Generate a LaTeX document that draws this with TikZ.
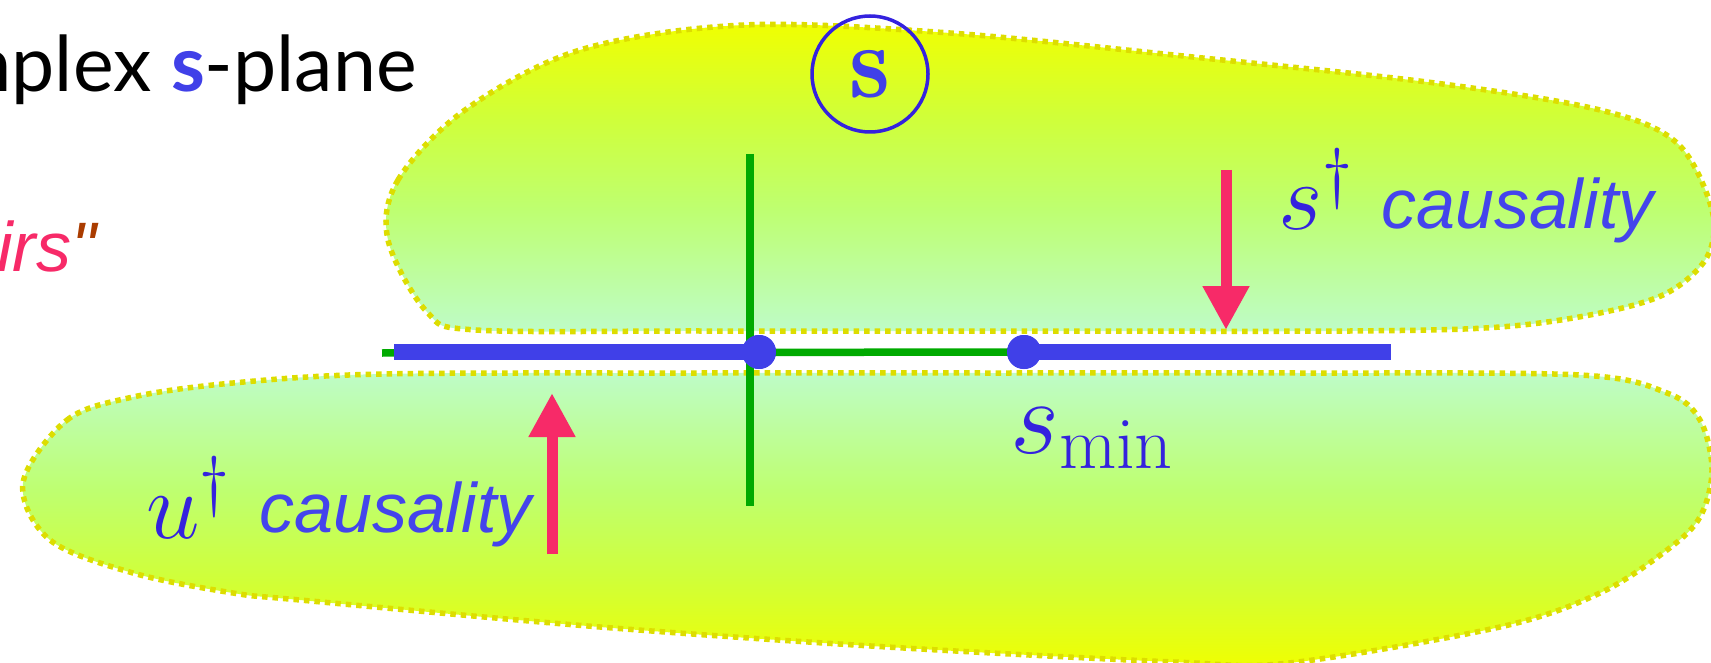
\RequirePackage{fix-cm}
\documentclass[tikz,border=0pt]{standalone}
\usepackage{fontspec}
\usetikzlibrary{arrows.meta}
\newfontfamily\arialfont{Liberation Sans}
\newfontfamily\titlefont{Lato}
\definecolor{sblue}{RGB}{64,64,232}
\definecolor{mblue}{RGB}{52,34,222}
\definecolor{tblue}{RGB}{68,68,236}
\definecolor{redc}{RGB}{247,42,104}
\definecolor{greenc}{RGB}{0,170,0}
\definecolor{dotyel}{RGB}{221,221,0}
\definecolor{topyel}{RGB}{240,255,0}
\definecolor{yelgreen}{RGB}{208,255,56}
\definecolor{midgreen}{RGB}{190,255,112}
\definecolor{mint}{RGB}{190,252,200}
\definecolor{quotebrown}{RGB}{170,60,0}
\pgfdeclareverticalshading{uppershade}{100bp}{color(0bp)=(mint); color(25bp)=(mint); color(45bp)=(midgreen); color(60bp)=(yelgreen); color(75bp)=(topyel); color(100bp)=(topyel)}
\pgfdeclareverticalshading{lowershade}{100bp}{color(0bp)=(topyel); color(25bp)=(topyel); color(40bp)=(yelgreen); color(55bp)=(midgreen); color(75bp)=(mint); color(100bp)=(mint)}
\tikzset{
  blob/.style={draw=dotyel, line width=5.5pt, dash pattern=on 5.5pt off 5pt},
  bluel/.style={draw=sblue, line width=16pt},
  greenl/.style={draw=greenc, line width=7.5pt},
  bdot/.style={circle, fill=sblue, minimum size=34pt, inner sep=0pt},
  redarrow/.style={draw=redc, line width=11pt, -{Triangle[width=44pt,length=44pt]}},
  lbl/.style={inner sep=0pt, anchor=base west},
  caus/.style={lbl, text=tblue, font=\arialfont\itshape\fontsize{70}{70}\selectfont},
  mth/.style={lbl, text=mblue, font=\fontsize{96}{96}\selectfont},
}
\begin{document}
\begin{tikzpicture}[x=1pt,y=-1pt]
\useasboundingbox (0,0) rectangle (1711,663);
\clip (0,0) rectangle (1711,663);
% upper half-plane region
\path[blob, shading=uppershade]
  plot[smooth cycle, tension=0.55] coordinates {
  (388,240) (398,180) (465,110) (580,50) (744,25) (950,33) (1193,57)
  (1435,83) (1600,110) (1677,143) (1712,210) (1707,257) (1667,293)
  (1600,313) (1500,327) (1350,331) (1000,331) (700,331) (476,330) (427,312)};
% lower half-plane region
\path[blob, shading=lowershade]
  plot[smooth cycle, tension=0.55] coordinates {
  (23,483) (67,420) (133,397) (233,383) (383,374) (700,373) (1000,373)
  (1300,373) (1580,375) (1667,393) (1700,420) (1712,470) (1700,517)
  (1667,550) (1600,593) (1500,627) (1289,663) (1174,662) (887,647)
  (600,627) (300,600) (233,593) (133,573) (50,540)};
% texts
\node[inner sep=0pt, anchor=base east] (title) at (417,92)
  {\titlefont\fontsize{77}{77}\selectfont Complex {\bfseries\color{sblue}s}-plane};
\node[lbl] (pairs) at (-3,272)
  {\arialfont\itshape\fontsize{70}{70}\selectfont\color{redc}irs\color{quotebrown}"};
\node[circle, draw=mblue, line width=3.5pt, minimum size=116pt, inner sep=0pt,
  text=sblue, font=\fontsize{104}{104}\selectfont] (circs) at (870,74) {$\mathbf{s}$};
% axes
\coordinate (gl) at (382,353);
\coordinate (gt) at (750,154);
\coordinate (gb) at (750,506);
\coordinate (bl) at (394,352);
\coordinate (br) at (1391,352);
\node[bdot] (d1) at (759,352) {};
\node[bdot] (d2) at (1024,352) {};
\draw[greenl] (gt) -- (gb);
\draw[greenl] (gl) -- (d2.center);
\draw[bluel] (bl) -- (d1.center);
\draw[bluel] (d2.center) -- (br);
\node[bdot] at (d1) {};
\node[bdot] at (d2) {};
% labels
\node[mth] (sdag) at (1278,230) {$s^\dagger$};
\node[caus] (scaus) at (1381,229) {causality};
\node[mth] (udag) at (146,538) {$u^\dagger$};
\node[caus] (ucaus) at (259,532) {causality};
\node[mth, font=\fontsize{106}{106}\selectfont] (smin) at (1010,453) {$s_{\rm min}$};
% arrows
\coordinate (ua0) at (552,554);
\coordinate (ua1) at (552,393);
\coordinate (sa0) at (1226,170);
\coordinate (sa1) at (1226,330);
\draw[redarrow] (ua0) -- (ua1);
\draw[redarrow] (sa0) -- (sa1);
\end{tikzpicture}
\end{document}
